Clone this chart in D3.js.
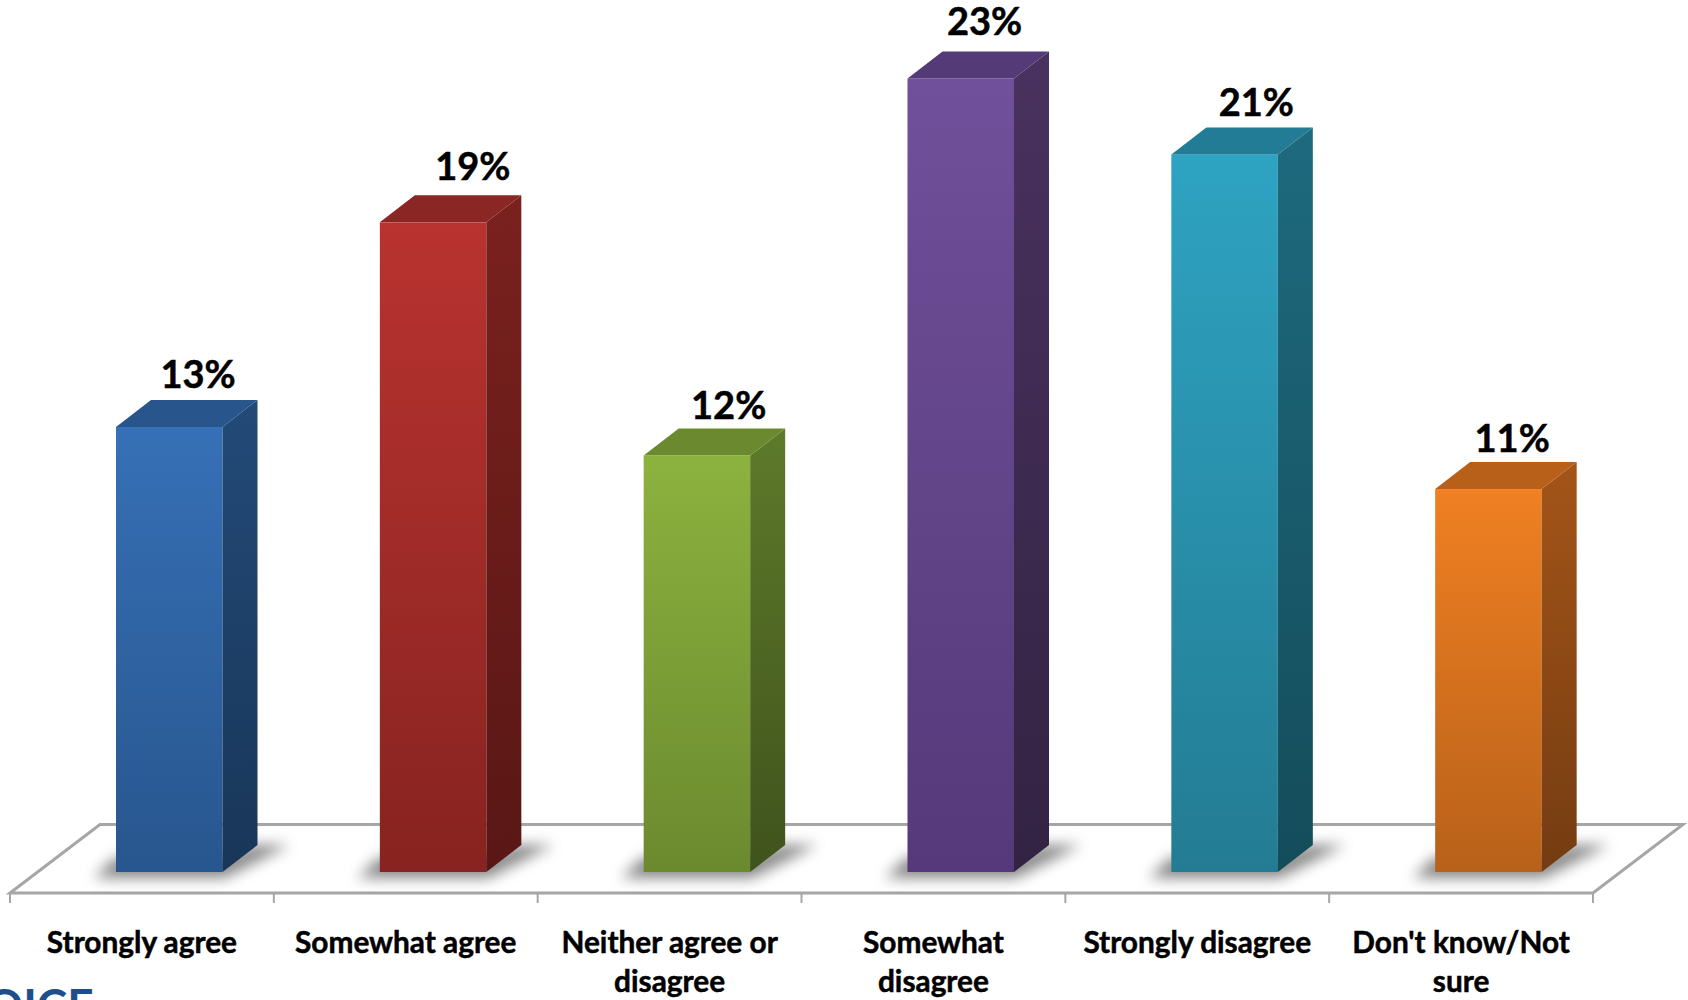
<!DOCTYPE html>
<html><head><meta charset="utf-8">
<script src="https://cdnjs.cloudflare.com/ajax/libs/d3/7.8.5/d3.min.js"></script>
<style>html,body{margin:0;padding:0;background:#fff}svg{display:block}text{font-family:Lato,sans-serif;font-weight:700;fill:#000;stroke:#000;stroke-width:.5px}</style>
</head><body><svg id="c" width="1688" height="1000"></svg>
<script>
const categories = ["Strongly agree","Somewhat agree","Neither agree or disagree","Somewhat disagree","Strongly disagree","Don't know/Not sure"];
const categoryLines = [["Strongly agree"],["Somewhat agree"],["Neither agree or","disagree"],["Somewhat","disagree"],["Strongly disagree"],["Don't know/Not","sure"]];
const values = [12.9,18.83,12.07,23,20.8,11.1];
const faceTop = ["#3670b6","#b93330","#8cb23e","#70509a","#2ea3c2","#f08022"];
const faceBottom = ["#28568e","#872320","#6b8a2f","#55397a","#237c93","#b8611a"];
const sideTop = ["#234a78","#7a211e","#5e7a2a","#49325f","#1e6a7e","#a45518"];
const sideBottom = ["#183658","#591715","#3f531c","#332343","#144c5a","#743c11"];
const roofColor = ["#27558c","#8a2623","#6b8a2f","#553a78","#237c96","#b8601a"];
const labelDx = [82,93,85,77,85,77];
const labelDy = [25,29,23,30,25,23];

const svg = d3.select("#c");
const x = d3.scaleBand().domain(categories).range([10,1593]);
const y = d3.scaleLinear().domain([0,23]).range([872,78.5]);
const fmt = v => d3.format(".0f")(v)+"%";
const barOff=106, barW=106.5, dx=35, dy=27;
const defs = svg.append("defs");
defs.append("filter").attr("id","sh").attr("x","-30%").attr("y","-60%").attr("width","160%").attr("height","220%")
  .append("feGaussianBlur").attr("stdDeviation",7);
categories.forEach((c,i)=>{
  const a=defs.append("linearGradient").attr("id","f"+i).attr("x1",0).attr("y1",0).attr("x2",0).attr("y2",1);
  a.append("stop").attr("offset",0).attr("stop-color",faceTop[i]);
  a.append("stop").attr("offset",1).attr("stop-color",faceBottom[i]);
  const b=defs.append("linearGradient").attr("id","s"+i).attr("x1",0).attr("y1",0).attr("x2",0).attr("y2",1);
  b.append("stop").attr("offset",0).attr("stop-color",sideTop[i]);
  b.append("stop").attr("offset",1).attr("stop-color",sideBottom[i]);
});
// floor
const fl=[x.range()[0],x.range()[1]], base=893, back=824.5;
svg.append("path").attr("d",`M${fl[0]},${base}L${fl[0]+90},${back}L${fl[1]+90},${back}L${fl[1]},${base}Z`)
  .attr("fill","none").attr("stroke","#a6a6a6").attr("stroke-width",3).attr("stroke-linejoin","miter");
const tickXs=[...categories.map(c=>x(c)),fl[1]];
svg.selectAll("line.t").data(tickXs).join("line").attr("class","t")
  .attr("x1",d=>d).attr("x2",d=>d).attr("y1",base).attr("y2",903).attr("stroke","#a6a6a6").attr("stroke-width",2);
const bars=svg.selectAll("g.b").data(categories).join("g").attr("class","b");
bars.each(function(c,i){
  const g=d3.select(this), l=x(c)+barOff, r=l+barW, t=y(values[i]), b=y(0);
  g.append("path").attr("d",`M${l-22},${b+6}L${r+2},${b+6}L${r+dx+32},${b-27}L${r+dx-5},${b-27}L${r},${b-15}L${l},${b-15}Z`)
   .attr("fill","#555").attr("opacity",.7).attr("filter","url(#sh)");
  g.append("rect").attr("x",l).attr("y",t).attr("width",barW).attr("height",b-t).attr("fill",`url(#f${i})`);
  g.append("path").attr("d",`M${r},${t}L${r+dx},${t-dy}L${r+dx},${b-dy}L${r},${b}Z`).attr("fill",`url(#s${i})`);
  g.append("path").attr("d",`M${l},${t}L${l+dx},${t-dy}L${r+dx},${t-dy}L${r},${t}Z`).attr("fill",roofColor[i]);
  g.append("text").attr("x",l+labelDx[i]).attr("y",t-dy-labelDy[i]).attr("dy","0.35em").attr("text-anchor","middle")
   .attr("font-size",38).text(fmt(values[i]));
});
svg.selectAll("text.c").data(categories).join("text").attr("class","c").attr("text-anchor","middle")
  .attr("font-size",29.8).each(function(c,i){
    const cx=x(c)+x.bandwidth()/2;
    d3.select(this).selectAll("tspan").data(categoryLines[i]).join("tspan")
      .attr("x",cx).attr("y",(d,j)=>943+39*j).attr("dy","0.35em").text(d=>d);
  });
// cropped logo fragment at the lower-left edge
svg.append("text").attr("x",-14).attr("y",1022).attr("font-size",46).style("fill","#1f4e8c").style("stroke","none").text("OICE");
</script></body></html>
